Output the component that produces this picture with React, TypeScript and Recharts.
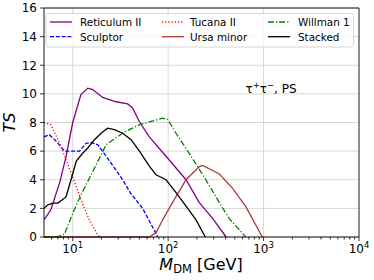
import { LineChart, Line, XAxis, YAxis, CartesianGrid, ReferenceLine } from "recharts";

// TS vs DM mass
const retM = [5, 5.9, 7.3, 8.5, 10, 11.75, 12.2, 14.4, 16.2, 20.6, 28.4, 37.7, 42.5, 50, 63.5, 99, 154, 212, 292, 405];
const retV = [1.2, 1.9, 3.8, 5.6, 8.0, 9.6, 9.95, 10.4, 10.3, 9.75, 9.45, 9.3, 9.0, 8.05, 7.0, 5.5, 4.0, 2.4, 1.3, 0];

const sclM = [5, 5.7, 6.7, 8.2, 10, 11.8, 13.8, 15.6, 18.3, 22.4, 33.4, 40, 54, 78];
const sclV = [7.0, 7.15, 6.7, 6.0, 6.0, 6.0, 6.55, 6.6, 6.45, 5.65, 4.0, 3.1, 2.0, 0];

const tucM = [5, 5.9, 7.3, 8.5, 10, 12.2, 14.9, 18.3, 19.5];
const tucV = [8.0, 7.85, 6.55, 5.4, 4.2, 2.6, 1.2, 0.15, 0];

const umiM = [5, 63.5, 74.6, 87.6, 111, 154, 211, 230, 344, 474, 654, 970];
const umiV = [0, 0, 0.3, 1.2, 2.4, 4.0, 4.9, 5.0, 4.4, 3.4, 2.1, 0];

const wilM = [5, 6.7, 8.2, 10, 12.2, 15.6, 22.4, 33.4, 39.3, 50, 87.6, 99, 121, 166, 248, 344, 435, 650];
const wilV = [0, 0, 0.2, 1.65, 2.95, 4.35, 6.45, 7.25, 7.5, 7.85, 8.3, 8.2, 7.25, 5.85, 4.0, 2.4, 1.3, 0];

const stkM = [5, 5.5, 6.2, 7.0, 8.5, 9.6, 10.9, 12.7, 14.3, 16.9, 19.8, 23.2, 27.3, 33.4, 40.9, 50, 63.5, 74.6, 95, 121, 154, 196, 245];
const stkV = [2.0, 2.25, 2.37, 2.37, 2.8, 4.0, 5.3, 5.85, 6.2, 6.8, 7.25, 7.6, 7.5, 7.25, 6.8, 6.0, 4.95, 4.35, 4.0, 3.1, 2.15, 1.2, 0];

const yTicks = [0, 2, 4, 6, 8, 10, 12, 14, 16];
const majorTicks = [10, 100, 1000, 10000];
const minorTicks = [6, 7, 8, 9, 20, 30, 40, 50, 60, 70, 80, 90, 200, 300, 400, 500, 600, 700, 800, 900, 2000, 3000, 4000, 5000, 6000, 7000, 8000, 9000];
const xTicks = [...minorTicks, ...majorTicks].sort((a, b) => a - b);

const zip = (m: number[], v: number[]) => m.map((x, i) => ({ m: x, ts: v[i] }));

const series = [
  { name: "Reticulum II", data: zip(retM, retV), color: "#800080", dash: undefined },
  { name: "Sculptor", data: zip(sclM, sclV), color: "#0000ff", dash: "4 1.8" },
  { name: "Tucana II", data: zip(tucM, tucV), color: "#ff0000", dash: "1.2 2" },
  { name: "Ursa minor", data: zip(umiM, umiV), color: "#b03838", dash: undefined },
  { name: "Willman 1", data: zip(wilM, wilV), color: "#008000", dash: "6 2 1.2 2" },
  { name: "Stacked", data: zip(stkM, stkV), color: "#000000", dash: undefined },
];

const font = "DejaVu Sans";

function XTick(props: any) {
  const { x, y, payload } = props;
  const major = majorTicks.includes(payload.value);
  const exp = Math.round(Math.log10(payload.value));
  return (
    <g>
      <line x1={x} x2={x} y1={y} y2={y + (major ? 4 : 2.5)} stroke="#000" strokeWidth={0.8} />
      {major && (
        <text x={x} y={y + 16} textAnchor="middle" fontFamily={font} fontSize={12} fill="#000">
          10
          <tspan fontSize={8.5} dy={-5}>{exp}</tspan>
        </text>
      )}
    </g>
  );
}

// legend layout: column x positions of handle and label
const legendPos = [
  { hx: 50, tx: 80, y: 22 },
  { hx: 50, tx: 80, y: 36.7 },
  { hx: 162, tx: 190, y: 22 },
  { hx: 162, tx: 190, y: 36.7 },
  { hx: 268, tx: 298, y: 22 },
  { hx: 268, tx: 298, y: 36.7 },
];

export default function App() {
  return (
    <div style={{ position: "absolute", left: 0, top: 0, width: 374, height: 280, background: "#fff" }}>
      <LineChart width={374} height={280} margin={{ top: 8, right: 15, left: 0, bottom: 0 }}>
        <CartesianGrid vertical={false} stroke="#d4d4d4" strokeWidth={0.9} />
        {majorTicks.slice(0, 3).map((t) => (
          <ReferenceLine key={t} x={t} stroke="#d4d4d4" strokeWidth={0.9} />
        ))}
        <XAxis
          dataKey="m"
          type="number"
          scale="log"
          domain={[5, 10000]}
          allowDataOverflow
          ticks={xTicks}
          interval={0}
          tick={<XTick />}
          tickLine={false}
          tickSize={0}
          tickMargin={0}
          height={43}
          axisLine={{ stroke: "#000", strokeWidth: 0.9 }}
        />
        <YAxis
          type="number"
          domain={[0, 16]}
          ticks={yTicks}
          width={44}
          tickSize={4}
          tickMargin={3}
          axisLine={{ stroke: "#000", strokeWidth: 0.9 }}
          tickLine={{ stroke: "#000", strokeWidth: 0.8 }}
          tick={{ fontFamily: font, fontSize: 12, fill: "#000" }}
        />
        {series.map((s) => (
          <Line
            key={s.name}
            data={s.data}
            dataKey="ts"
            type="linear"
            stroke={s.color}
            strokeWidth={1.3}
            strokeDasharray={s.dash}
            dot={false}
            isAnimationActive={false}
          />
        ))}
        <ReferenceLine y={16} stroke="#000" strokeWidth={0.9} />
        <ReferenceLine x={10000} stroke="#000" strokeWidth={0.9} />
      </LineChart>
      <svg
        width={374}
        height={280}
        style={{ position: "absolute", left: 0, top: 0, pointerEvents: "none" }}
        fontFamily={font}
      >
        <rect x={46} y={13.5} width={307.5} height={33.5} rx={3} fill="#fff" fillOpacity={0.8} stroke="#cccccc" strokeWidth={0.8} />
        {series.map((s, i) => {
          const p = legendPos[i];
          return (
            <g key={s.name}>
              <line x1={p.hx} x2={p.hx + 22} y1={p.y} y2={p.y} stroke={s.color} strokeWidth={1.3} strokeDasharray={s.dash} />
              <text x={p.tx} y={p.y + 3.8} fontSize={10.4} fill="#000">{s.name}</text>
            </g>
          );
        })}
        <text x={271} y={93} textAnchor="middle" fontSize={12} fill="#000">
          τ<tspan fontSize={8.5} dy={-5}>+</tspan>
          <tspan dy={5}>τ</tspan>
          <tspan fontSize={8.5} dy={-5}>−</tspan>
          <tspan dy={5}>, PS</tspan>
        </text>
        <text x={201} y={270} textAnchor="middle" fontSize={16} fill="#000">
          <tspan fontStyle="italic">M</tspan>
          <tspan fontSize={11.5} dy={3}>DM</tspan>
          <tspan dy={-3}> [GeV]</tspan>
        </text>
        <text x={15} y={122.5} textAnchor="middle" fontSize={16} fontStyle="italic" fill="#000" transform="rotate(-90 15 122.5)">
          TS
        </text>
      </svg>
    </div>
  );
}
